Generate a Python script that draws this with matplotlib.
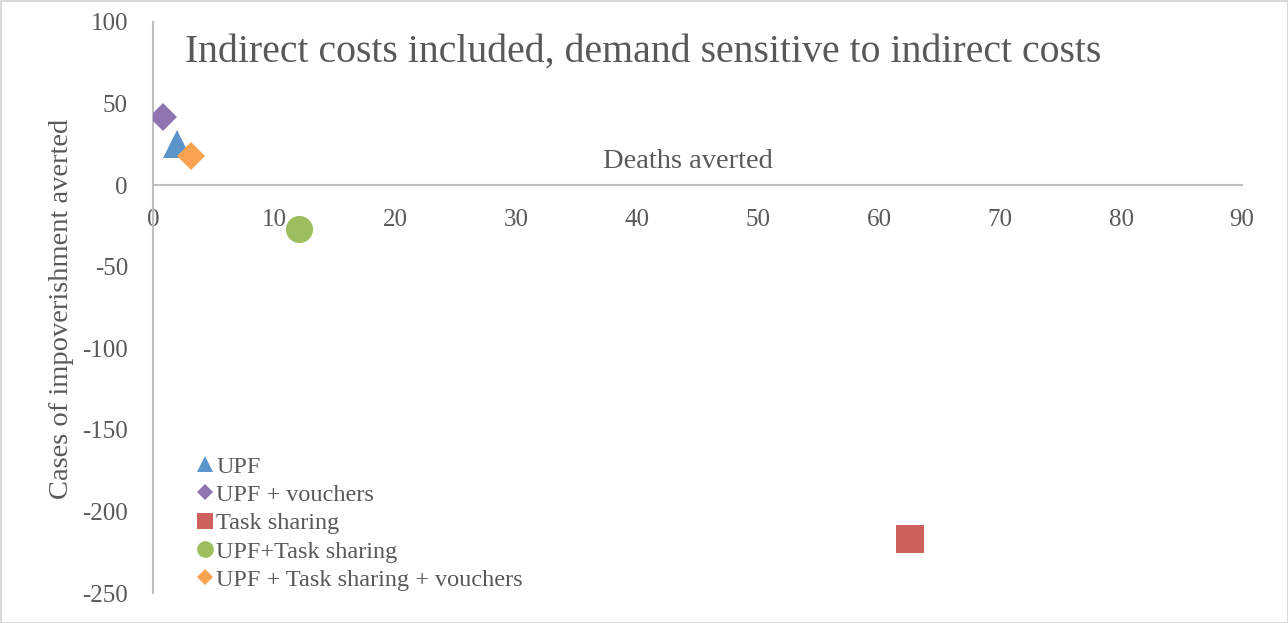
import matplotlib
matplotlib.use("Agg")
import matplotlib.pyplot as plt

names = ["UPF", "UPF + vouchers", "Task sharing", "UPF+Task sharing", "UPF + Task sharing + vouchers"]
deaths = [2.0, 0.8, 62.6, 12.1, 3.1]
impov = [25, 42, -217, -27, 18]
markers = ["^", "D", "s", "o", "D"]
colors = ["#5B93CB", "#8F74B2", "#CD605A", "#9DBE5F", "#F9A252"]
sizes = [20, 14, 20, 19.5, 14]
legend_sizes = [12, 8.5, 12, 12, 8.5]
xticks = [0, 10, 20, 30, 40, 50, 60, 70, 80, 90]
yticks = [100, 50, 0, -50, -100, -150, -200, -250]

plt.rcParams['font.family'] = ['Liberation Serif', 'DejaVu Serif']
text_col = "#595959"

fig = plt.figure(figsize=(12.88, 6.23), dpi=100)
fig.patch.set_edgecolor("#D9D9D9")
fig.patch.set_linewidth(2)
ax = fig.add_axes([153/1288, 1-593/623, (1242-153)/1288, (593-22)/623])

handles = []
for n, x, y, m, c, s, ls in zip(names, deaths, impov, markers, colors, sizes, legend_sizes):
    ax.plot([x], [y], linestyle="none", marker=m, color=c, markersize=s, markeredgewidth=0, zorder=3)
    h, = ax.plot([], [], linestyle="none", marker=m, color=c, markersize=ls, markeredgewidth=0, label=n)
    handles.append(h)

ax.set_xlim(0, 90)
ax.set_ylim(-250, 100)
ax.set_xticks(xticks)
ax.set_yticks(yticks)
ax.set_xticklabels([str(v) for v in xticks])
ax.set_yticklabels([str(v) for v in yticks])
ax.spines['bottom'].set_position(('data', 0))
for s in ['top', 'right']:
    ax.spines[s].set_visible(False)
for s in ['left', 'bottom']:
    ax.spines[s].set_color("#BFBFBF")
    ax.spines[s].set_linewidth(1.5)
ax.tick_params(axis='x', length=0, pad=17, labelsize=18, colors=text_col)
ax.tick_params(axis='y', length=0, pad=18, labelsize=18, colors=text_col)
ax.patch.set_visible(False)

ax.text(44.2, 7, "Deaths averted", fontsize=20.5, color=text_col, ha='center', va='bottom')
fig.text(62/1288, 1-309/623, "Cases of impoverishment averted", rotation=90, fontsize=20.5,
         color=text_col, ha='center', va='center')
fig.text(185/1288, 1-52/623, "Indirect costs included, demand sensitive to indirect costs",
         fontsize=28.6, color=text_col, ha='left', va='center')

leg = ax.legend(handles=handles, loc='lower left', bbox_to_anchor=(0.028, -0.022), frameon=False,
                fontsize=17.5, handlelength=0.6, handletextpad=0.15, labelspacing=0.26,
                borderaxespad=0.2, numpoints=1)
for t in leg.get_texts():
    t.set_color(text_col)

fig.savefig("out.png", dpi=100)
